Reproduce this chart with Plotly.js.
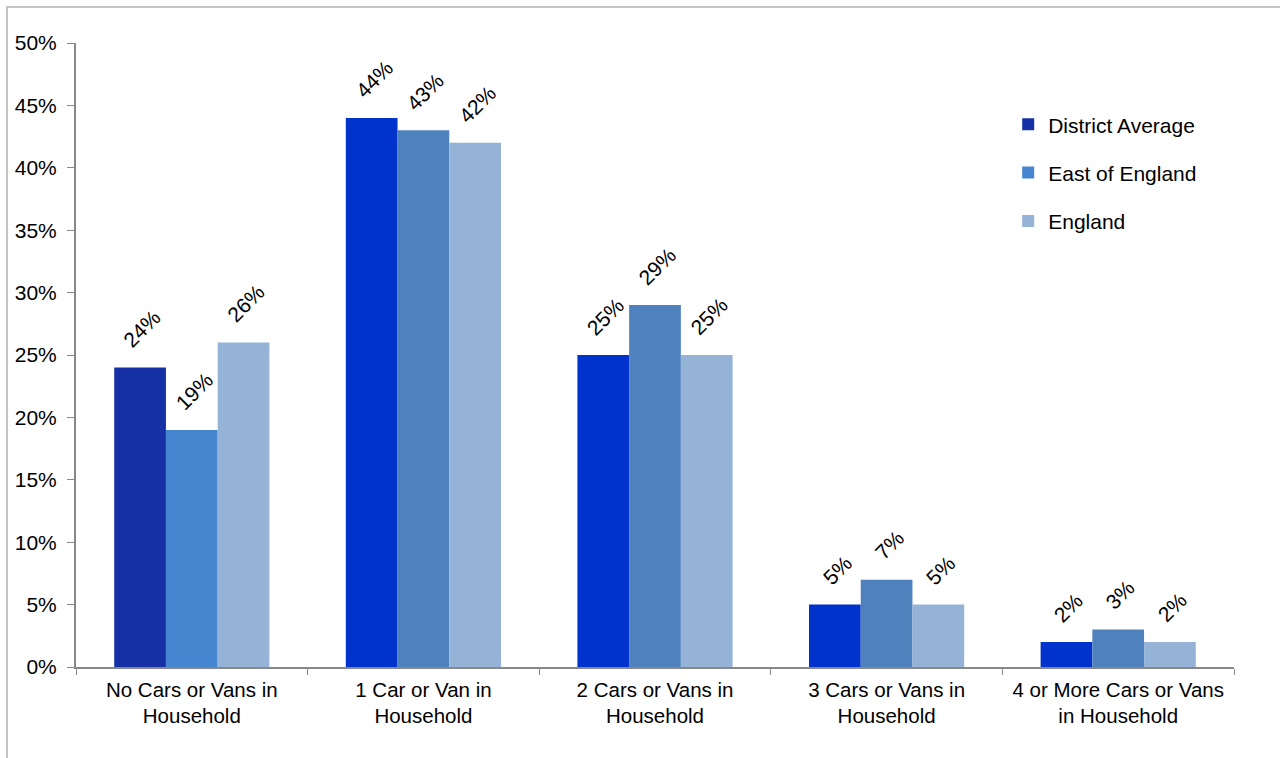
<!DOCTYPE html>
<html>
<head>
<meta charset="utf-8">
<script src="https://cdn.plot.ly/plotly-3.0.1.min.js"></script>
<style>
  html, body { margin: 0; padding: 0; background: #ffffff; overflow: hidden; }
  #chart { width: 1280px; height: 758px; }
  #frame { position: absolute; left: 6px; top: 6px; width: 1320px; height: 800px;
           border-left: 2px solid #c4c4c4; border-top: 2px solid #c4c4c4; pointer-events: none; }
</style>
</head>
<body>
<div id="chart"></div>
<div id="frame"></div>
<script>
const categories = [
  "No Cars or Vans in<br>Household",
  "1 Car or Van in<br>Household",
  "2 Cars or Vans in<br>Household",
  "3 Cars or Vans in<br>Household",
  "4 or More Cars or Vans<br>in Household"
];
const seriesNames = ["District Average", "East of England", "England"];
const districtAverage = [24, 44, 25, 5, 2];
const eastOfEngland = [19, 43, 29, 7, 3];
const england = [26, 42, 25, 5, 2];
const yTicks = [0, 5, 10, 15, 20, 25, 30, 35, 40, 45, 50];

const seriesValues = [districtAverage, eastOfEngland, england];
const baseColors = ["#0033cc", "#4f81bd", "#95b3d7"];
const firstGroupColors = ["#1631a6", "#4686d0", "#95b3d7"];

const W = 1280, H = 758;
const margin = { l: 76, r: 46, t: 43, b: 91 };
const bargap = 0.33;

const traces = seriesValues.map((vals, i) => ({
  type: "bar",
  name: seriesNames[i],
  legendgroup: "g" + i,
  x: categories,
  y: vals,
  marker: {
    color: vals.map((v, j) => j === 0 ? firstGroupColors[i] : baseColors[i]),
    line: { width: 0 }
  },
  hoverinfo: "x+y"
}));

// value labels as rotated annotations, offset by the bar slot width
const plotW = W - margin.l - margin.r;
const slotW = plotW / categories.length;
const barW = slotW * (1 - bargap) / seriesValues.length;
const annotations = [];
seriesValues.forEach((vals, i) => {
  vals.forEach((v, j) => {
    annotations.push({
      x: categories[j],
      y: v,
      xref: "x",
      yref: "y",
      text: v + "%",
      showarrow: false,
      textangle: -45,
      xanchor: "center",
      yanchor: "bottom",
      xshift: (i - (seriesValues.length - 1) / 2) * barW + 2,
      yshift: 13,
      font: { family: "Liberation Sans, Arial, sans-serif", size: 21, color: "#000000" }
    });
  });
});

const layout = {
  width: W,
  height: H,
  margin: margin,
  paper_bgcolor: "#ffffff",
  plot_bgcolor: "#ffffff",
  font: { family: "Liberation Sans, Arial, sans-serif", size: 20, color: "#000000" },
  barmode: "group",
  bargap: bargap,
  bargroupgap: 0,
  showlegend: true,
  annotations: annotations,
  legend: {
    x: 0.805,
    xanchor: "left",
    y: 0.902,
    yanchor: "top",
    font: { size: 21, color: "#000000" },
    tracegroupgap: 18,
    bgcolor: "rgba(0,0,0,0)"
  },
  xaxis: {
    type: "category",
    showline: true,
    linecolor: "#888888",
    linewidth: 2,
    ticks: "outside",
    tickson: "boundaries",
    ticklen: 6,
    tickcolor: "#888888",
    tickwidth: 1,
    ticklabelstandoff: 3,
    showgrid: false,
    tickfont: { size: 20.5 },
    fixedrange: true
  },
  yaxis: {
    range: [0, 50],
    tickvals: yTicks,
    ticktext: yTicks.map(v => v + "%"),
    showline: true,
    linecolor: "#888888",
    linewidth: 2,
    ticks: "outside",
    ticklen: 7,
    tickcolor: "#888888",
    tickwidth: 1,
    ticklabelstandoff: 6,
    showgrid: false,
    zeroline: false,
    tickfont: { size: 21 },
    fixedrange: true
  }
};

Plotly.newPlot("chart", traces, layout, { displayModeBar: false, staticPlot: true });
</script>
</body>
</html>
